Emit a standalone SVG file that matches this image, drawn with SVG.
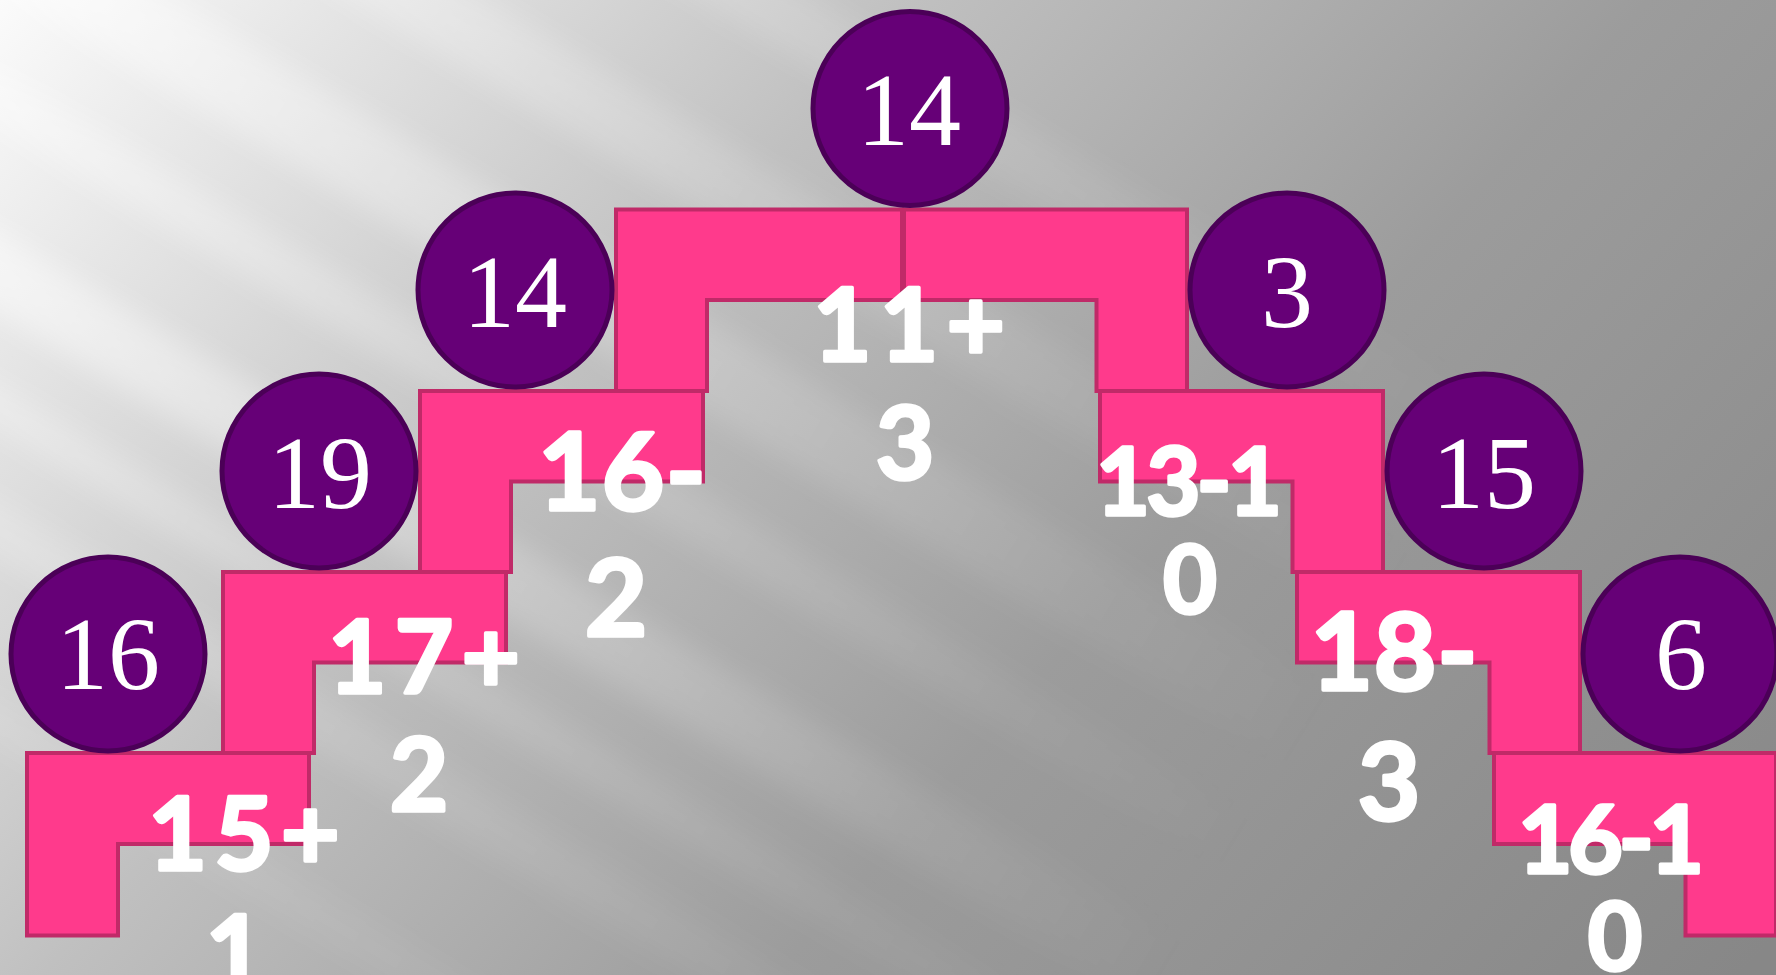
<svg xmlns="http://www.w3.org/2000/svg" width="1776" height="975" viewBox="0 0 1776 975">
  <defs>
    <linearGradient id="bg" x1="0" y1="0" x2="1450" y2="1300" gradientUnits="userSpaceOnUse">
      <stop offset="0" stop-color="#fbfbfb"/>
      <stop offset="0.18" stop-color="#dddddd"/>
      <stop offset="0.35" stop-color="#c0c0c0"/>
      <stop offset="0.63" stop-color="#9c9c9c"/>
      <stop offset="1" stop-color="#878787"/>
    </linearGradient>
    <linearGradient id="ray" x1="0" y1="0" x2="1500" y2="0" gradientUnits="userSpaceOnUse">
      <stop offset="0" stop-color="#ffffff" stop-opacity="0.75"/>
      <stop offset="0.5" stop-color="#ffffff" stop-opacity="0.3"/>
      <stop offset="1" stop-color="#ffffff" stop-opacity="0"/>
    </linearGradient>
    <filter id="blur" x="-20%" y="-20%" width="140%" height="140%">
      <feGaussianBlur stdDeviation="14"/>
    </filter>
    <style>
      .step { fill: #ff3a8c; stroke: #c02a68; stroke-width: 4; stroke-linejoin: miter; }
      .circ { fill: #660077; stroke: #4b0057; stroke-width: 5; }
      .num { font-family: "Liberation Serif", "DejaVu Serif", serif; font-size: 104px; fill: #ffffff; text-anchor: middle; }
      .lbl { font-family: Lato, "DejaVu Sans", sans-serif; font-weight: 700; fill: #ffffff; stroke: #ffffff; stroke-width: 3.5; stroke-linejoin: round; text-anchor: middle; }
    </style>
  </defs>

  <g id="background">
    <rect x="0" y="0" width="1776" height="975" fill="url(#bg)"/>
    <g transform="rotate(31)" filter="url(#blur)" fill="url(#ray)">
      <rect x="-300" y="-420" width="2400" height="60" opacity="0.45"/>
      <rect x="-300" y="-250" width="2400" height="70" opacity="0.5"/>
      <rect x="-300" y="-90" width="2400" height="80" opacity="0.6"/>
      <rect x="-300" y="60" width="2400" height="50" opacity="0.5"/>
      <rect x="-300" y="200" width="2400" height="70" opacity="0.7"/>
      <rect x="-300" y="330" width="2400" height="40" opacity="0.45"/>
      <rect x="-300" y="430" width="2400" height="50" opacity="0.35"/>
      <rect x="-300" y="600" width="2400" height="40" opacity="0.2"/>
    </g>
  </g>

  <g id="connectors"></g>

  <g id="step-top-left"><path class="step" d="M616,209.5 H902 V300 H707 V391 H616 Z"/></g>
  <g id="step-top-right"><path class="step" d="M904,209.5 H1187 V391 H1096.5 V300 H904 Z"/></g>
  <g id="step-2-left"><path class="step" d="M420,391 H703 V481.5 H511 V572 H420 Z"/></g>
  <g id="step-2-right"><path class="step" d="M1100,391 H1383 V572 H1292.5 V481.5 H1100 Z"/></g>
  <g id="step-3-left"><path class="step" d="M223,572 H506 V662.5 H314 V753 H223 Z"/></g>
  <g id="step-3-right"><path class="step" d="M1297,572 H1580 V753 H1489.5 V662.5 H1297 Z"/></g>
  <g id="step-4-left"><path class="step" d="M27,753 H309 V844 H118 V935.5 H27 Z"/></g>
  <g id="step-4-right"><path class="step" d="M1494,753 H1776 V935.5 H1685.5 V844 H1494 Z"/></g>

  <g id="node-top"><circle class="circ" cx="910" cy="108.5" r="97"/><text class="num" x="909" y="145">14</text></g>
  <g id="node-left-1"><circle class="circ" cx="515" cy="290" r="97"/><text class="num" x="515" y="327">14</text></g>
  <g id="node-right-1"><circle class="circ" cx="1287" cy="290" r="97"/><text class="num" x="1287" y="327">3</text></g>
  <g id="node-left-2"><circle class="circ" cx="319" cy="471" r="97"/><text class="num" x="320" y="508">19</text></g>
  <g id="node-right-2"><circle class="circ" cx="1484" cy="471" r="97"/><text class="num" x="1484" y="508">15</text></g>
  <g id="node-left-3"><circle class="circ" cx="108" cy="654" r="97"/><text class="num" x="108" y="689">16</text></g>
  <g id="node-right-3"><circle class="circ" cx="1680" cy="654" r="97"/><text class="num" x="1681" y="689">6</text></g>

  <g id="label-top">
    <text class="lbl" x="909" y="361" font-size="101" textLength="192" lengthAdjust="spacing">11+</text>
    <text class="lbl" x="905" y="479" font-size="101">3</text>
  </g>
  <g id="label-2-left">
    <text class="lbl" x="622" y="510" font-size="108" textLength="168" lengthAdjust="spacing">16-</text>
    <text class="lbl" x="616" y="636" font-size="108">2</text>
  </g>
  <g id="label-3-left">
    <text class="lbl" x="424" y="693" font-size="101" textLength="192" lengthAdjust="spacing">17+</text>
    <text class="lbl" x="419" y="811" font-size="101">2</text>
  </g>
  <g id="label-4-left">
    <text class="lbl" x="244" y="870" font-size="102" textLength="192" lengthAdjust="spacing">15+</text>
    <text class="lbl" x="235" y="988" font-size="102">1</text>
  </g>
  <g id="label-2-right">
    <text class="lbl" x="1189" y="515" font-size="93" textLength="186" lengthAdjust="spacing">13-1</text>
    <text class="lbl" x="1190" y="613" font-size="93">0</text>
  </g>
  <g id="label-3-right">
    <text class="lbl" x="1394" y="690" font-size="108" textLength="167" lengthAdjust="spacing">18-</text>
    <text class="lbl" x="1389" y="820" font-size="108">3</text>
  </g>
  <g id="label-4-right">
    <text class="lbl" x="1611" y="873" font-size="94" textLength="186" lengthAdjust="spacing">16-1</text>
    <text class="lbl" x="1615" y="970" font-size="94">0</text>
  </g>
</svg>
